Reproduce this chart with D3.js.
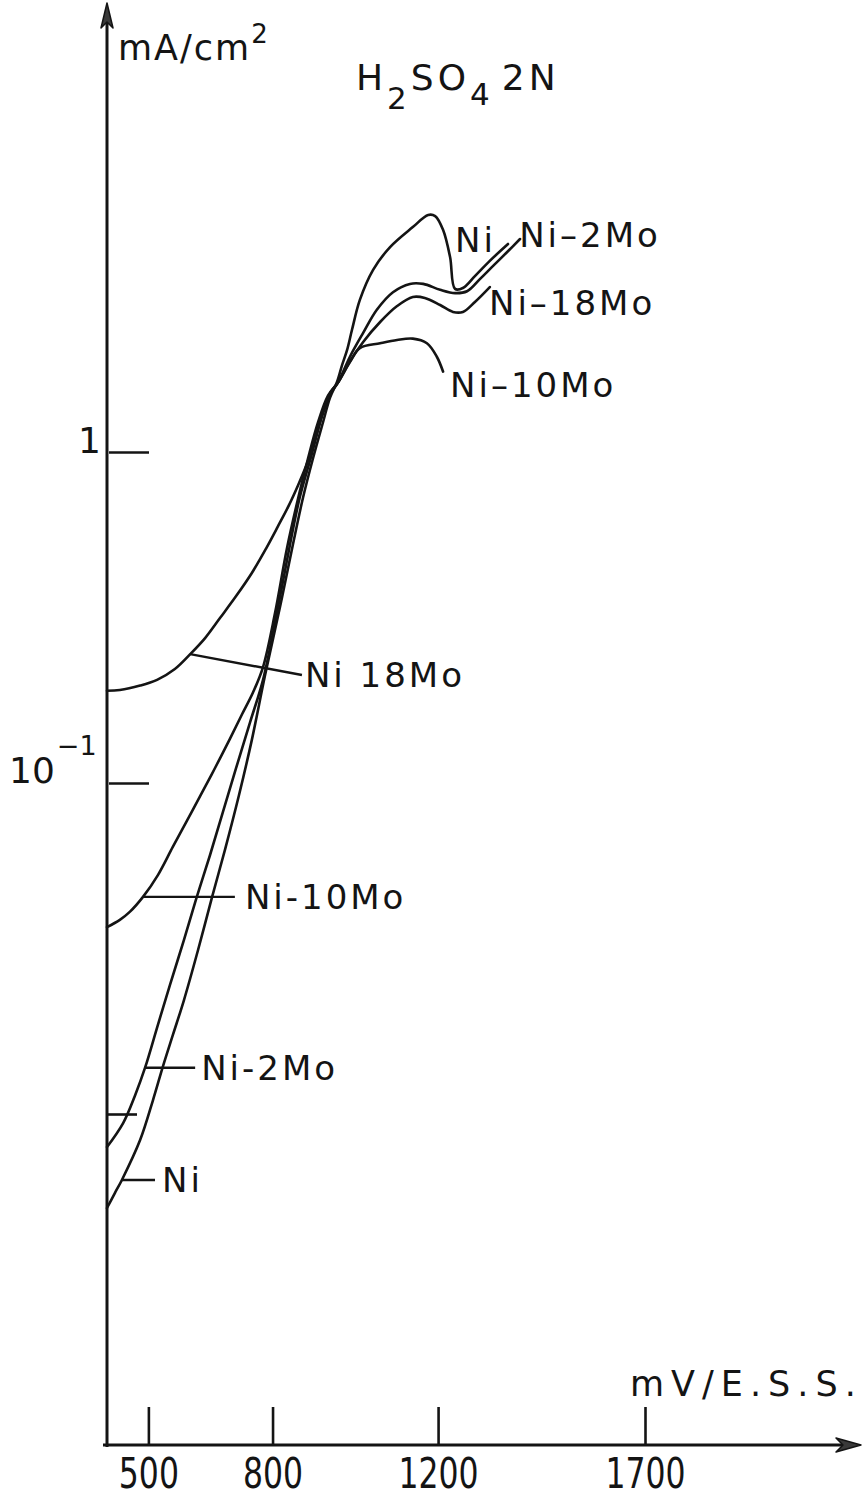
<!DOCTYPE html>
<html>
<head>
<meta charset="utf-8">
<script src="https://cdn.jsdelivr.net/npm/d3@7"></script>
<style>
  html, body { margin: 0; padding: 0; background: #fff; }
  svg { display: block; }
  text { font-family: "DejaVu Sans", "Liberation Sans", sans-serif; fill: #141414; }
</style>
</head>
<body>
<svg id="chart" width="864" height="1499"></svg>
<script>
// Anodic polarisation curves in H2SO4 2N: potential (mV / E.S.S.) vs current density (mA/cm²)

// Ni
const niPotential = [400, 419, 436, 480, 511, 535, 559, 586, 620, 654, 685, 719, 750, 782, 818, 849, 874, 898, 922, 939,
  956, 968, 980, 992, 1011, 1043, 1084, 1139, 1176, 1193, 1212, 1229, 1241, 1260, 1289, 1325, 1369];
const niCurrent = [0.0052, 0.00577, 0.00632, 0.00834, 0.0110, 0.0139, 0.0173, 0.0221, 0.0313, 0.0453, 0.0628, 0.092, 0.135, 0.212, 0.340, 0.524, 0.731, 0.959, 1.23, 1.46,
  1.63, 1.83, 2.03, 2.34, 2.88, 3.55, 4.16, 4.78, 5.20, 5.16, 4.69, 3.88, 3.11, 3.13, 3.40, 3.78, 4.25];

// Ni-2Mo
const ni2MoPotential = [400, 439, 468, 492, 523, 552, 586, 617, 649, 680, 712, 746, 777, 811, 842, 866, 893, 917, 939, 958,
  987, 1019, 1052, 1091, 1132, 1164, 1205, 1241, 1270, 1301, 1333, 1367, 1398];
const ni2MoCurrent = [0.00795, 0.00939, 0.0114, 0.0138, 0.0186, 0.0245, 0.0336, 0.0453, 0.0606, 0.0817, 0.111, 0.153, 0.205, 0.329, 0.524, 0.731, 0.966, 1.25, 1.49, 1.62,
  1.94, 2.29, 2.69, 3.04, 3.22, 3.22, 3.09, 3.02, 3.06, 3.33, 3.65, 4.02, 4.40];

// Ni-10Mo
const ni10MoPotential = [400, 431, 455, 487, 523, 559, 593, 625, 661, 697, 726, 753, 777, 806, 835, 862, 886, 910, 934, 958,
  987, 1011, 1060, 1101, 1139, 1173, 1197, 1212];
const ni10MoCurrent = [0.0367, 0.0386, 0.0408, 0.0453, 0.0527, 0.0641, 0.0768, 0.0913, 0.111, 0.136, 0.161, 0.188, 0.224, 0.326, 0.513, 0.726, 0.959, 1.23, 1.48, 1.62,
  1.87, 2.06, 2.13, 2.18, 2.20, 2.13, 1.94, 1.75];

// Ni-18Mo
const ni18MoPotential = [400, 431, 480, 521, 564, 601, 637, 673, 712, 750, 784, 813, 840, 862, 881, 898, 912, 927, 941, 958,
  987, 1019, 1060, 1101, 1139, 1168, 1205, 1236, 1260, 1289, 1325];
const ni18MoCurrent = [0.190, 0.191, 0.197, 0.205, 0.221, 0.245, 0.274, 0.315, 0.367, 0.431, 0.510, 0.596, 0.692, 0.795, 0.907, 1.04, 1.20, 1.39, 1.52, 1.62,
  1.88, 2.15, 2.47, 2.76, 2.94, 2.92, 2.78, 2.65, 2.65, 2.84, 3.15];

// Axis ticks
const xTickValues = [500, 800, 1200, 1700];
const yTickValues = [1, 0.1, 0.01];
const yTickBase = ["1", "10", ""];
const yTickExponent = ["", "\u22121", ""];

// Labels with leader lines near the start of each curve
const lowerLabels = ["Ni 18Mo", "Ni-10Mo", "Ni-2Mo", "Ni"];
const leaderFromPotential = [601, 487, 492, 436];
const leaderFromCurrent = [0.245, 0.0453, 0.0138, 0.00632];
const leaderToPotential = [871, 709, 613, 516];
const leaderToCurrent = [0.212, 0.0453, 0.0138, 0.00632];
const lowerLabelGap = [3, 10, 6, 7];

// Labels at the end of each curve
const upperLabels = ["Ni", "Ni\u20132Mo", "Ni\u201318Mo", "Ni\u201310Mo"];
const upperLabelPotential = [1241, 1396, 1323, 1229];
const upperLabelCurrent = [4.02, 4.16, 2.59, 1.47];

const series = [
  { name: "Ni", potential: niPotential, current: niCurrent },
  { name: "Ni-2Mo", potential: ni2MoPotential, current: ni2MoCurrent },
  { name: "Ni-10Mo", potential: ni10MoPotential, current: ni10MoCurrent },
  { name: "Ni-18Mo", potential: ni18MoPotential, current: ni18MoCurrent }
];

const ink = "#141414";
const svg = d3.select("#chart");

const x = d3.scaleLinear().domain([400, 1700]).range([107, 645]);
const y = d3.scaleLog().domain([1e-3, 1]).range([1445, 452]);

const x0 = x(400);
const y0 = y(1e-3);

// Axis lines with arrowheads
svg.append("line")
  .attr("x1", x0 - 4).attr("x2", 846).attr("y1", y0).attr("y2", y0)
  .attr("stroke", ink).attr("stroke-width", 3);
svg.append("path")
  .attr("d", `M861,${y0} L836,${y0 - 7} L843,${y0} L836,${y0 + 7} Z`)
  .attr("fill", "#3a3a3a").attr("stroke", ink).attr("stroke-width", 1.5).attr("stroke-linejoin", "round");

svg.append("line")
  .attr("x1", x0).attr("x2", x0).attr("y1", y0 + 2).attr("y2", 14)
  .attr("stroke", ink).attr("stroke-width", 3);
svg.append("path")
  .attr("d", `M${x0},3 L${x0 - 6},28 L${x0},22 L${x0 + 6},28 Z`)
  .attr("fill", "#3a3a3a").attr("stroke", ink).attr("stroke-width", 1.5).attr("stroke-linejoin", "round");

// X axis ticks pointing up into the plot
const gx = svg.append("g")
  .attr("transform", `translate(0,${y0})`)
  .call(d3.axisBottom(x)
    .tickValues(xTickValues)
    .tickFormat(d3.format("d"))
    .tickSizeInner(-38)
    .tickSizeOuter(0)
    .tickPadding(17));
gx.select(".domain").remove();
gx.attr("font-family", null).attr("font-size", null);
gx.selectAll(".tick line").attr("stroke", ink).attr("stroke-width", 2.6);
gx.selectAll(".tick text")
  .attr("fill", ink)
  .attr("font-size", 42)
  .attr("y", 43)
  .attr("dy", 0)
  .attr("transform", "scale(0.75,1)");

// Y axis ticks pointing right
const gy = svg.append("g")
  .attr("transform", `translate(${x0 + 2},0)`)
  .call(d3.axisLeft(y)
    .tickValues(yTickValues)
    .tickFormat(() => "")
    .tickSizeInner(-40)
    .tickSizeOuter(0));
gy.select(".domain").remove();
gy.selectAll(".tick line")
  .attr("stroke", ink).attr("stroke-width", 2.6)
  .attr("x1", (d, i) => yTickBase[i] ? 0 : -2)
  .attr("x2", (d, i) => yTickBase[i] ? 40 : 28);

// Y tick labels (powers of ten)
yTickValues.forEach((v, i) => {
  if (!yTickBase[i]) return;
  if (!yTickExponent[i]) {
    svg.append("text")
      .attr("x", x0 - 6).attr("y", y(v) + 1)
      .attr("text-anchor", "end")
      .attr("font-size", 36)
      .text(yTickBase[i]);
  } else {
    const t = svg.append("text")
      .attr("x", 9).attr("y", y(v))
      .attr("font-size", 36);
    t.append("tspan").text(yTickBase[i]);
    t.append("tspan").attr("font-size", 27).attr("dx", 2).attr("dy", -28).text(yTickExponent[i]);
  }
});

// Axis titles
const yTitle = svg.append("text")
  .attr("x", 118).attr("y", 60)
  .attr("font-size", 35)
  .attr("letter-spacing", 2);
yTitle.append("tspan").text("mA/cm");
yTitle.append("tspan").attr("font-size", 26).attr("dy", -17).text("2");

svg.append("text")
  .attr("x", 630).attr("y", 1396)
  .attr("font-size", 35)
  .attr("letter-spacing", 7)
  .text("mV/E.S.S.");

// Electrolyte
const title = svg.append("text")
  .attr("x", 356).attr("y", 90)
  .attr("font-size", 36)
  .attr("letter-spacing", 4);
title.append("tspan").text("H");
title.append("tspan").attr("font-size", 31).attr("dy", 19).text("2");
title.append("tspan").attr("dy", -19).text("SO");
title.append("tspan").attr("font-size", 31).attr("dy", 15).text("4");
title.append("tspan").attr("dy", -15).attr("dx", 8).text("2N");

// Curves
const line = d3.line()
  .x(d => x(d[0]))
  .y(d => y(d[1]))
  .curve(d3.curveCatmullRom.alpha(0.5));

svg.append("g")
  .selectAll("path")
  .data(series)
  .join("path")
  .attr("d", s => line(d3.zip(s.potential, s.current)))
  .attr("fill", "none")
  .attr("stroke", ink)
  .attr("stroke-width", 2.6)
  .attr("stroke-linejoin", "round")
  .attr("stroke-linecap", "round");

// Leader lines and labels near the curve starts
lowerLabels.forEach((label, i) => {
  const xa = x(leaderFromPotential[i]), ya = y(leaderFromCurrent[i]);
  const xb = x(leaderToPotential[i]), yb = y(leaderToCurrent[i]);
  svg.append("line")
    .attr("x1", xa).attr("y1", ya).attr("x2", xb).attr("y2", yb)
    .attr("stroke", ink).attr("stroke-width", 2.4);
  svg.append("text")
    .attr("x", xb + lowerLabelGap[i]).attr("y", yb + 12.5)
    .attr("font-size", 34)
    .attr("letter-spacing", 3)
    .text(label);
});

// Labels at the curve ends
upperLabels.forEach((label, i) => {
  svg.append("text")
    .attr("x", x(upperLabelPotential[i]))
    .attr("y", y(upperLabelCurrent[i]))
    .attr("font-size", 34)
    .attr("letter-spacing", 3)
    .text(label);
});
</script>
</body>
</html>
